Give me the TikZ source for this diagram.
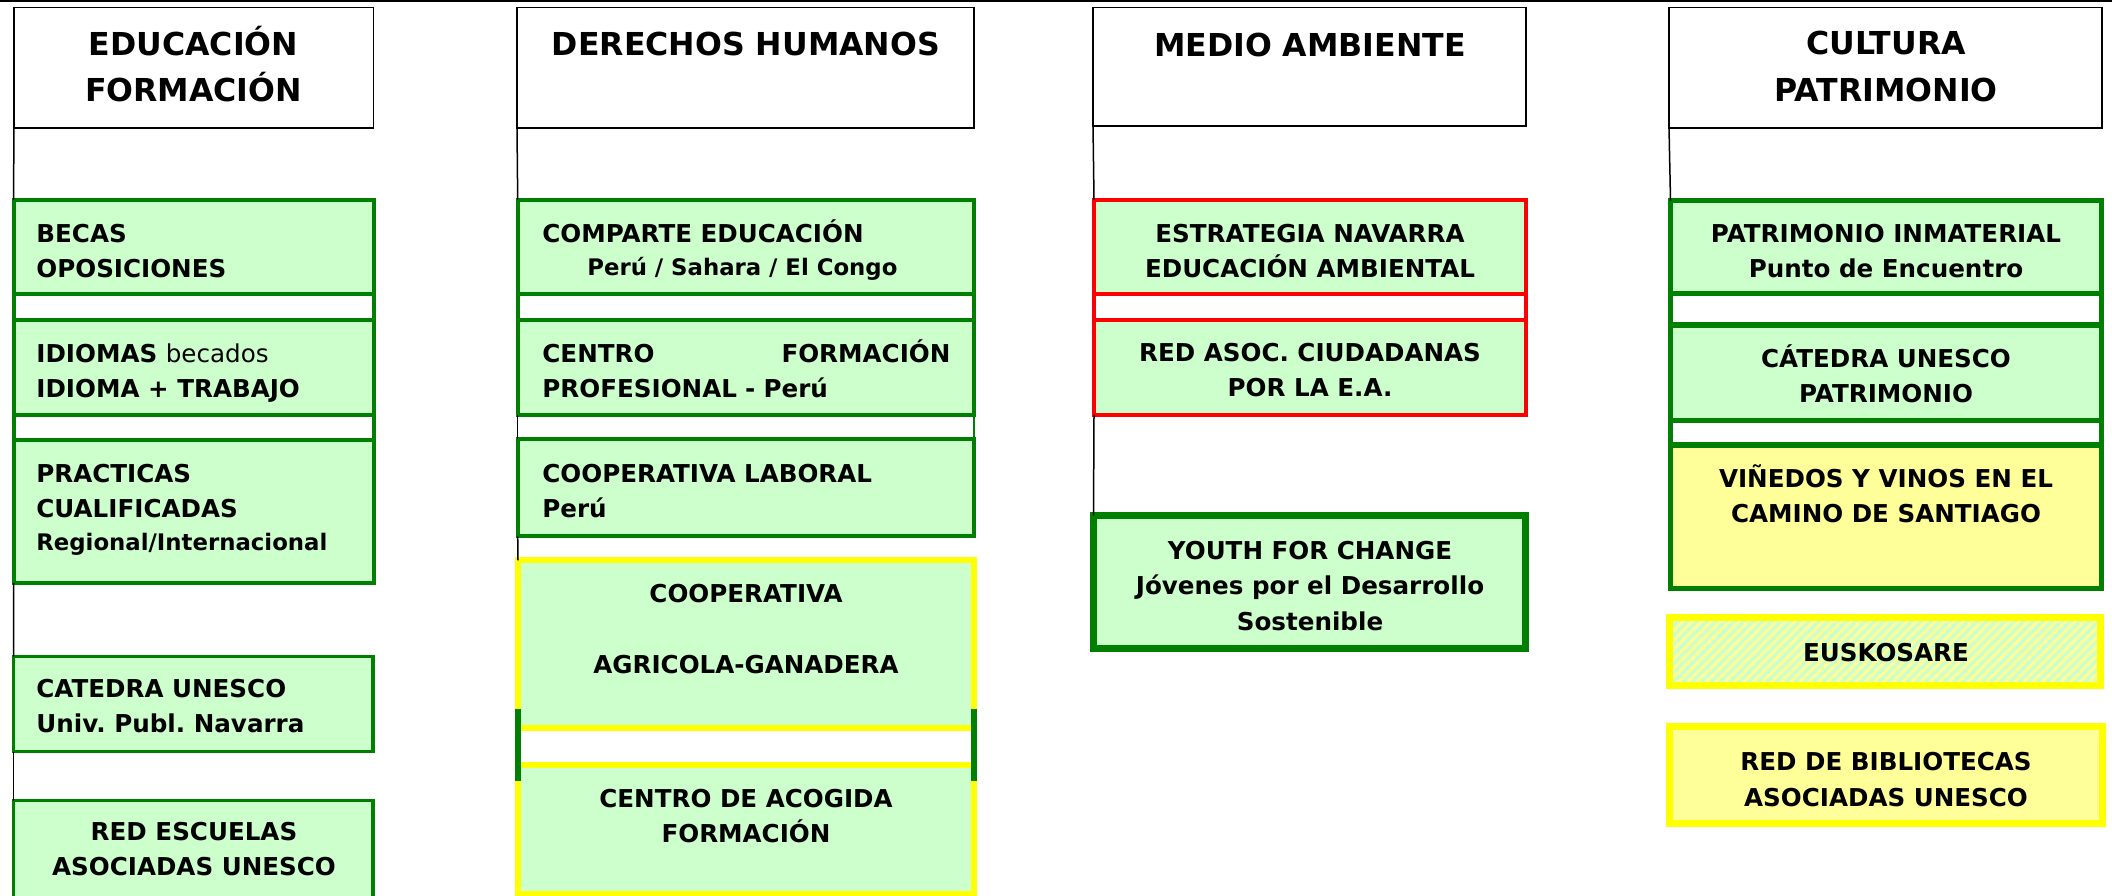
\documentclass[tikz,border=0pt]{standalone}
\usepackage{fontspec}
\setmainfont{DejaVu Sans}
\usetikzlibrary{fit,calc,patterns.meta}
\definecolor{G}{HTML}{008000}
\definecolor{LG}{HTML}{CCFFCC}
\definecolor{Y}{HTML}{FFFF00}
\definecolor{LY}{HTML}{FFFF99}
\definecolor{R}{HTML}{FF0000}
\newcommand\myBody{\fontsize{12.3}{17.75}\selectfont\bfseries\frenchspacing}
\newcommand\mySmall{\fontsize{11.4}{16}\selectfont\bfseries\frenchspacing}
\newcommand\myHdr{\fontsize{15.8}{23.2}\selectfont\bfseries}
\begin{document}
\begin{tikzpicture}[x=0.5pt,y=-0.5pt,
  hdr/.style={draw=black,line width=0.9pt,fill=white,inner sep=0pt,outer sep=0pt},
  gbox/.style={draw=G,fill=LG,line width=2pt,inner sep=0pt,outer sep=0pt},
  gboxthin/.style={gbox,line width=1.7pt},
  gboxc/.style={gbox,line width=2.75pt},
  gboxy/.style={draw=G,fill=LY,line width=2.75pt,inner sep=0pt,outer sep=0pt},
  ybox/.style={draw=Y,fill=LG,line width=3pt,inner sep=0pt,outer sep=0pt},
  rbox/.style={draw=R,fill=LG,line width=2pt,inner sep=0pt,outer sep=0pt},
  youth/.style={draw=G,fill=LG,line width=3.3pt,inner sep=0pt,outer sep=0pt},
  eus/.style={draw=Y,line width=3.5pt,inner sep=0pt,outer sep=0pt,preaction={fill=LG},
    pattern={Lines[angle=45,distance=3.3pt,line width=1.5pt]},pattern color=LY},
  lyb/.style={draw=Y,fill=LY,line width=3.5pt,inner sep=0pt,outer sep=0pt},
  htxt/.style={inner sep=0pt,font=\myHdr,align=center,anchor=base},
  ctxt/.style={inner sep=0pt,font=\myBody,align=center,anchor=base},
  ltxt/.style={inner sep=0pt,font=\myBody,align=left,anchor=base west},
  link/.style={draw=black,line width=0.75pt},
  gside/.style={draw=G,line width=2pt},
  gsidec/.style={draw=G,line width=2.75pt},
  rside/.style={draw=R,line width=2pt}]
\useasboundingbox (0,0) rectangle (2112,895);
\fill[white] (0,0) rectangle (2112,895);
\coordinate (tl) at (0,0.75);
\coordinate (tr) at (2112,0.75);
\draw[line width=0.75pt] (tl) -- (tr);

% multi-line nodes are placed by the baseline of their LAST line

% ---------- Column 1: EDUCACION ----------
\node[hdr,fit={(14,7.5)(373.5,128)}] (h1) {};
\node[htxt] (h1t) at (193.5,101.5) {EDUCACIÓN\\FORMACIÓN};
\node[gbox,fit={(13.5,199.7)(374,294)}] (e1) {};
\node[gbox,fit={(13.5,320.3)(374,415)}] (e2) {};
\node[gbox,fit={(13.5,440)(374,583)}] (e3) {};
\node[gboxthin,fit={(13.7,656.5)(373,751.5)}] (e4) {};
\node[gboxthin,fit={(13.7,800.5)(373,910)}] (e5) {};
\draw[gside] (e1.south west) -- (e2.north west) (e1.south east) -- (e2.north east);
\draw[gside] (e2.south west) -- (e3.north west) (e2.south east) -- (e3.north east);
\draw[link] (h1.south west) -- (e1.north west);
\draw[link] (e3.south west) -- (e4.north west);
\draw[link] (e4.south west) -- (e5.north west);
\node[ltxt] (e1t) at (36,277.5) {BECAS\\OPOSICIONES};
\node[ltxt] (e2t) at (36,397.5) {IDIOMAS {\mdseries becados}\\IDIOMA + TRABAJO};
\node[ltxt] (e3t) at (36,517.5) {PRACTICAS\\CUALIFICADAS};
\node[ltxt,font=\mySmall] (e3s) at (36,550) {Regional/Internacional};
\node[ltxt] (e4t) at (36,732.5) {CATEDRA UNESCO\\Univ. Publ. Navarra};
\node[ctxt] (e5t) at (194,875.5) {RED ESCUELAS\\ASOCIADAS UNESCO};

% ---------- Column 2: DERECHOS HUMANOS ----------
\node[hdr,fit={(517,7.5)(974,128)}] (h2) {};
\node[htxt] (h2t) at (746,55) {DERECHOS HUMANOS};
\node[gbox,fit={(517.7,199.7)(974,294)}] (d1) {};
\node[gbox,fit={(517.7,320.3)(974,414.7)}] (d2) {};
\node[gbox,fit={(517.7,438.7)(974,536.3)}] (d3) {};
\node[ybox,fit={(518,560.3)(973.7,728)}] (d4) {};
\node[ybox,fit={(518,764.5)(973.7,893.5)}] (d5) {};
\draw[gside] (d1.south west) -- (d2.north west) (d1.south east) -- (d2.north east);
\draw[draw=G,line width=1pt] (d2.south east) -- (d3.north east);
\draw[link] (h2.south west) -- (d1.north west);
\draw[link] (d2.south west) -- (d3.north west);
\draw[link] (d3.south west) -- (d4.north west);
\draw[draw=G,line width=3.2pt] ($(d4.south west)+(0,-19)$) -- ($(d5.north west)+(0,16.5)$);
\draw[draw=G,line width=3.2pt] ($(d4.south east)+(0,-19)$) -- ($(d5.north east)+(0,16.5)$);
\node[ltxt] (d1t) at (542,242) {COMPARTE EDUCACIÓN};
\node[ltxt,font=\mySmall] (d1s) at (587,275) {Perú / Sahara / El Congo};
\node[ltxt,text width=204pt] (d2t) at (542,362) {CENTRO\hfill FORMACIÓN\\PROFESIONAL - Perú};
\node[ltxt] (d3t) at (542,517.5) {COOPERATIVA LABORAL\\Perú};
\node[ctxt] (d4t) at (746,673) {COOPERATIVA\\[17.75pt]AGRICOLA-GANADERA};
\node[ctxt] (d5t) at (746,842.5) {CENTRO DE ACOGIDA\\FORMACIÓN};

% ---------- Column 3: MEDIO AMBIENTE ----------
\node[hdr,fit={(1093,7.5)(1526,126)}] (h3) {};
\node[htxt] (h3t) at (1310,56) {MEDIO AMBIENTE};
\node[rbox,fit={(1094,199.5)(1526,294)}] (m1) {};
\node[rbox,fit={(1094,320)(1526,414.5)}] (m2) {};
\node[youth,fit={(1093.5,515.5)(1525.5,648.5)}] (m3) {};
\draw[rside] (m1.south west) -- (m2.north west) (m1.south east) -- (m2.north east);
\draw[link] (h3.south west) -- (m1.north west);
\draw[link] (m2.south west) -- (m3.north west);
\node[ctxt] (m1t) at (1310,277.5) {ESTRATEGIA NAVARRA\\EDUCACIÓN AMBIENTAL};
\node[ctxt] (m2t) at (1310,396.5) {RED ASOC. CIUDADANAS\\POR LA E.A.};
\node[ctxt] (m3t) at (1310,630) {YOUTH FOR CHANGE\\Jóvenes por el Desarrollo\\Sostenible};

% ---------- Column 4: CULTURA ----------
\node[hdr,fit={(1669,7.5)(2102,128)}] (h4) {};
\node[htxt] (h4t) at (1886,101) {CULTURA\\PATRIMONIO};
\node[gboxc,fit={(1670.5,200.5)(2101.5,293.5)}] (c1) {};
\node[gboxc,fit={(1670.5,325)(2101.5,420.5)}] (c2) {};
\node[gboxy,fit={(1670.5,445)(2101.5,588.5)}] (c3) {};
\node[eus,fit={(1669.5,617.5)(2100.5,685.5)}] (c4) {};
\node[lyb,fit={(1669.5,726.5)(2102.5,823.5)}] (c5) {};
\draw[gsidec] (c1.south west) -- (c2.north west) (c1.south east) -- (c2.north east);
\draw[gsidec] (c2.south west) -- (c3.north west) (c2.south east) -- (c3.north east);
\draw[link] (h4.south west) -- (c1.north west);
\node[ctxt] (c1t) at (1886,277.5) {PATRIMONIO INMATERIAL\\Punto de Encuentro};
\node[ctxt] (c2t) at (1886,402.5) {CÁTEDRA UNESCO\\PATRIMONIO};
\node[ctxt] (c3t) at (1886,522.5) {VIÑEDOS Y VINOS EN EL\\CAMINO DE SANTIAGO};
\node[ctxt] (c4t) at (1886,661) {EUSKOSARE};
\node[ctxt] (c5t) at (1886,806) {RED DE BIBLIOTECAS\\ASOCIADAS UNESCO};
\end{tikzpicture}
\end{document}
